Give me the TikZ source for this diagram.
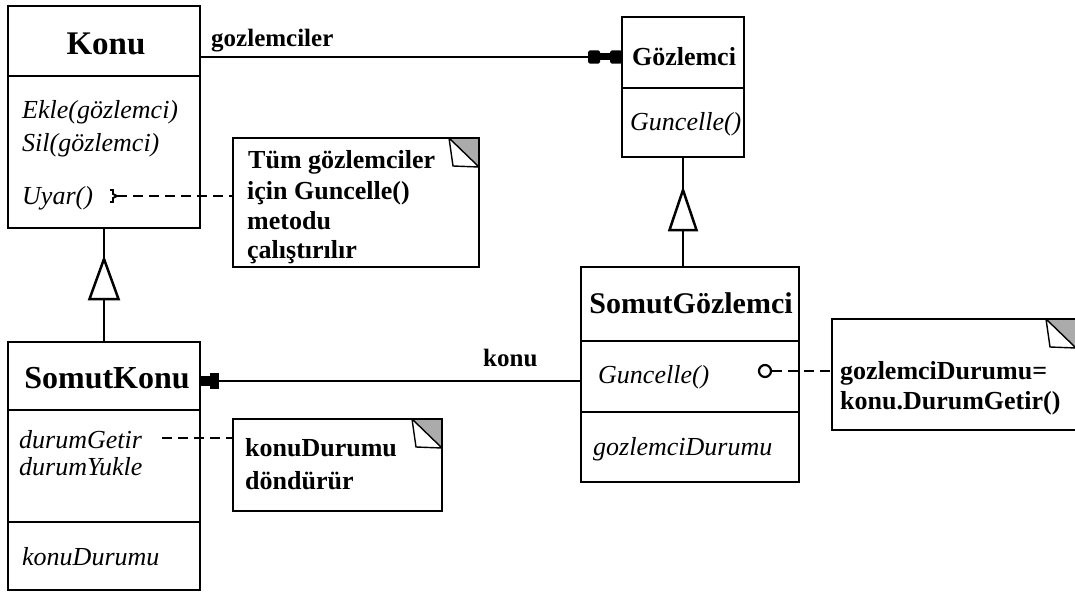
\documentclass[tikz,border=0pt]{standalone}
\usepackage{fontspec}
\setmainfont{Liberation Serif}
\usetikzlibrary{calc}
\begin{document}
\begin{tikzpicture}[x=1pt,y=-1pt,
  classbox/.style={draw,line width=2.5pt,rectangle,inner sep=0pt,outer sep=0pt},
  notebox/.style={draw,line width=2.8pt,rectangle,inner sep=0pt,outer sep=0pt,fill=white},
  classtitle/.style={font=\fontsize{32}{36}\selectfont\bfseries,inner sep=0pt,anchor=base},
  member/.style={font=\fontsize{26}{30}\selectfont\itshape,inner sep=0pt,anchor=base west},
  notetext/.style={font=\fontsize{26}{30}\selectfont\bfseries,inner sep=0pt,anchor=base west},
  rolelabel/.style={font=\fontsize{25}{28}\selectfont\bfseries,inner sep=0pt,anchor=base west},
  assoc/.style={line width=2.5pt},
  notelink/.style={line width=2.6pt,dash pattern=on 10pt off 6pt},
  generalization/.style={line width=2.5pt,fill=white},
  notefold/.pic={
    \fill[black!33] (-30,0) -- (0,0) -- (0,29) -- cycle;
    \draw[line width=1.4pt] (-30,0) -- (0,29) (-30,0) -- (-26,28) -- (0,29);
    \draw[line width=2.8pt] (-31,0) -- (0,0) -- (0,30);
  }
]
\useasboundingbox (0,0) rectangle (1075,594);
\fill[white] (0,0) rectangle (1075,594);

% Konu
\node[classbox,minimum width=192pt,minimum height=222pt] (konu) at (104,117) {};
\draw[assoc] (8,76) -- (200,76);
\node[classtitle,font=\fontsize{33}{36}\selectfont\bfseries] (konuT) at (106,55) {Konu};
\node[member] (ekle) at (22,118) {Ekle(gözlemci)};
\node[member] (sil) at (22,151) {Sil(gözlemci)};
\node[member] (uyar) at (22,204) {Uyar()};

% Gözlemci
\node[classbox,minimum width=122pt,minimum height=140pt] (goz) at (683,87) {};
\draw[assoc] (622,88) -- (744,88);
\node[classtitle,font=\fontsize{26}{30}\selectfont\bfseries] (gozT) at (684,65) {Gözlemci};
\node[member] (gozG) at (630,130) {Guncelle()};

% SomutGözlemci
\node[classbox,minimum width=218pt,minimum height=215pt] (sg) at (690,374.5) {};
\draw[assoc] (581,341) -- (799,341);
\draw[assoc] (581,412) -- (799,412);
\node[classtitle,font=\fontsize{30}{34}\selectfont\bfseries] (sgT) at (691,313) {SomutGözlemci};
\node[member] (sgG) at (598,383) {Guncelle()};
\node[member] (sgD) at (593,455) {gozlemciDurumu};

% SomutKonu
\node[classbox,minimum width=192pt,minimum height=248pt] (sk) at (104,466) {};
\draw[assoc] (8,410) -- (200,410);
\draw[assoc] (8,522) -- (200,522);
\node[classtitle] (skT) at (107,388) {SomutKonu};
\node[member] (skG) at (19,448) {durumGetir};
\node[member] (skY) at (19,475) {durumYukle};
\node[member] (skD) at (22,565) {konuDurumu};

% Notes
\node[notebox,minimum width=246pt,minimum height=129pt] (n1) at (356,202.5) {};
\pic at (n1.north east) {notefold};
\node[notetext] (n1a) at (248,168) {Tüm gözlemciler};
\node[notetext] (n1b) at (247,199) {için Guncelle()};
\node[notetext] (n1c) at (247,229) {metodu};
\node[notetext] (n1d) at (247,258) {çalıştırılır};

\node[notebox,minimum width=209pt,minimum height=92pt] (n2) at (337.5,465) {};
\pic at (n2.north east) {notefold};
\node[notetext] (n2a) at (245,456) {konuDurumu};
\node[notetext] (n2b) at (245,489) {döndürür};

\node[notebox,minimum width=244pt,minimum height=111pt] (n3) at (954,374.5) {};
\pic at (n3.north east) {notefold};
\node[notetext] (n3a) at (840,379) {gozlemciDurumu=};
\node[notetext] (n3b) at (840,409) {konu.DurumGetir()};

% Association Konu -> Gözlemci
\coordinate (topline) at (0,57);
\draw[line width=2pt] (konu.east |- topline) -- (goz.west |- topline);
\fill[rounded corners=1.5pt] ($(goz.west |- topline)+(-34,-6.5)$) rectangle ++(12,13);
\fill ($(goz.west |- topline)+(-24,-3.5)$) rectangle ++(14,7);
\fill[rounded corners=1.5pt] ($(goz.west |- topline)+(-12,-6.5)$) rectangle ++(12,13);
\node[rolelabel] (lblG) at (211,46) {gozlemciler};

% Association SomutGözlemci -> SomutKonu
\coordinate (midline) at (0,381);
\draw[assoc] (sg.west |- midline) -- (sk.east |- midline);
\fill ($(sk.east |- midline)+(0,-5)$) rectangle ++(10,10);
\fill ($(sk.east |- midline)+(10,-8)$) rectangle ++(9,16);
\node[rolelabel] (lblK) at (483,366) {konu};

% Generalizations
\draw[assoc] (goz.south) -- (goz.south |- sg.north);
\draw[generalization] ($(goz.south)+(0,33)$) -- ++(13.5,40) -- ++(-27,0) -- cycle;
\draw[assoc] (konu.south) -- (sk.north);
\draw[generalization] ($(konu.south)+(0,31)$) -- ++(14.5,40) -- ++(-29,0) -- cycle;

% Note links
\coordinate (uyarEnd) at (117,196);
\draw[line width=1.8pt] ($(uyarEnd)+(-7,-6)$) -- ++(3,0) -- ++(0,4) -- ++(4,2) -- ++(-4,2) -- ++(0,4) -- ++(-3,0);
\draw[notelink] (uyarEnd) -- (n1.west |- uyarEnd);

\coordinate (getirEnd) at (162,438);
\draw[notelink] (getirEnd) -- (n2.west |- getirEnd);

\node[circle,draw,line width=2.2pt,minimum size=12pt,inner sep=0pt] (hook) at (765,371) {};
\draw[notelink] (hook.east) -- (n3.west |- hook);
\end{tikzpicture}
\end{document}
